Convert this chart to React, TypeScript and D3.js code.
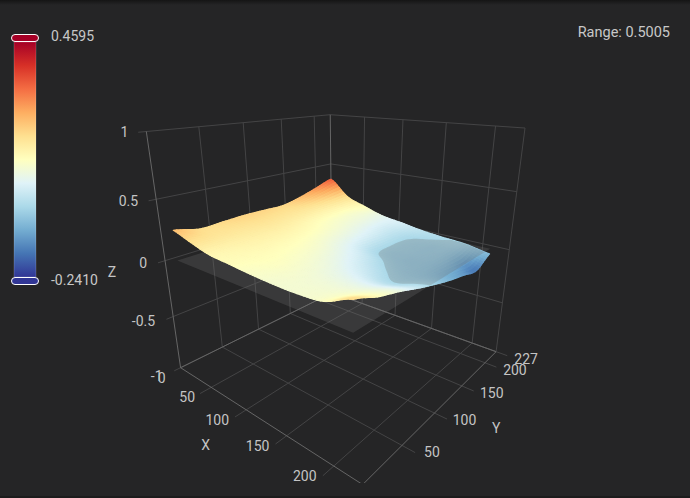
import { useEffect, useRef } from 'react';
import * as d3 from 'd3';

const WIDTH = 690;
const HEIGHT = 498;
const BG = '#252526';

// surface samples: one row per y value, one column per x value
const surfaceXs = [0, 26, 52, 78, 104, 130, 156, 182, 208];
const surfaceYs = [12, 39, 66, 93, 120, 146, 173, 200, 227];
const surfaceZ = [
  [0.227, 0.175, 0.129, 0.114, 0.098, 0.087, 0.086, 0.103, 0.187],
  [0.181, 0.165, 0.135, 0.118, 0.105, 0.088, 0.078, 0.082, 0.116],
  [0.188, 0.165, 0.14, 0.118, 0.098, 0.075, 0.052, 0.042, 0.066],
  [0.196, 0.17, 0.14, 0.112, 0.085, 0.05, 0.012, -0.022, 0.007],
  [0.193, 0.165, 0.13, 0.1, 0.06, 0.018, -0.028, -0.05, -0.045],
  [0.19, 0.16, 0.115, 0.085, 0.04, -0.028, -0.05, -0.06, -0.09],
  [0.227, 0.16, 0.105, 0.07, 0.025, -0.034, -0.048, -0.062, -0.125],
  [0.28, 0.17, 0.1, 0.062, 0.015, -0.03, -0.045, -0.06, -0.16],
  [0.337, 0.182, 0.114, 0.055, 0.027, -0.005, -0.025, -0.04, -0.078],
];
const planeZ = -0.03;

const xTicks = [0, 50, 100, 150, 200];
const yTicks = [50, 100, 150, 200, 227];
const zTicks = [-1, -0.5, 0, 0.5, 1];
const zTickLabels = ['-1', '-0.5', '0', '0.5', '1'];

const colorMin = -0.241;
const colorMax = 0.4595;
const rangeLabel = 'Range: 0.5005';
const rdYlBu = ['#313695', '#4575b4', '#74add1', '#abd9e9', '#e0f3f8', '#ffffbf', '#fee090', '#fdae61', '#f46d43', '#d73027', '#a50026'];

// box points and where they land on screen, used to fit the 3d camera
const cameraAnchors: [number, number, number, number, number][] = [
  [0, 0, -1, 180, 368],
  [227, 0, -1, 363, 484],
  [227, 227, -1, 497, 353],
  [0, 227, -1, 331, 291],
  [0, 0, 1, 147, 130],
  [0, 227, 1, 331, 115],
  [227, 227, 1, 524, 127],
  [227, 227, 0, 509, 250],
  [227, 227, 0.5, 517, 192],
  [0, 227, 0.5, 331, 165],
  [0, 0, 0.5, 155, 199],
  [0, 0, 0, 165, 262],
  [50, 0, -1, 213, 388],
  [100, 0, -1, 247, 410],
  [150, 0, -1, 287, 436],
  [200, 0, -1, 332, 466],
  [227, 50, -1, 402, 445],
  [227, 100, -1, 433, 413],
  [227, 150, -1, 462, 385],
  [227, 200, -1, 486, 363],
];

const scaleX = d3.scaleLinear().domain([0, 227]).range([0, 1]);
const scaleY = d3.scaleLinear().domain([0, 227]).range([0, 1]);
const scaleZ = d3.scaleLinear().domain([-1, 1]).range([0, 1]);

function fitCamera() {
  const rows: number[][] = [];
  const rhs: number[] = [];
  for (const [x, y, z, u, v] of cameraAnchors) {
    const X = scaleX(x), Y = scaleY(y), Z = scaleZ(z);
    rows.push([X, Y, Z, 1, 0, 0, 0, 0, -u * X, -u * Y, -u * Z]);
    rhs.push(u);
    rows.push([0, 0, 0, 0, X, Y, Z, 1, -v * X, -v * Y, -v * Z]);
    rhs.push(v);
  }
  // normal equations, gaussian elimination
  const n = 11;
  const m = d3.range(n).map((i) => {
    const r = d3.range(n).map((j) => d3.sum(rows, (row) => row[i] * row[j]));
    r.push(d3.sum(rows, (row, k) => row[i] * rhs[k]));
    return r;
  });
  for (let c = 0; c < n; c++) {
    let p = c;
    for (let r = c + 1; r < n; r++) if (Math.abs(m[r][c]) > Math.abs(m[p][c])) p = r;
    [m[c], m[p]] = [m[p], m[c]];
    for (let r = 0; r < n; r++) {
      if (r === c) continue;
      const f = m[r][c] / m[c][c];
      for (let k = c; k <= n; k++) m[r][k] -= f * m[c][k];
    }
  }
  return m.map((r, i) => r[n] / r[i]);
}

const cam = fitCamera();

function project(x: number, y: number, z: number): [number, number] {
  const X = scaleX(x), Y = scaleY(y), Z = scaleZ(z);
  const w = cam[8] * X + cam[9] * Y + cam[10] * Z + 1;
  return [
    (cam[0] * X + cam[1] * Y + cam[2] * Z + cam[3]) / w,
    (cam[4] * X + cam[5] * Y + cam[6] * Z + cam[7]) / w,
  ];
}

function catmull(p: number[], t: number) {
  const i = Math.min(Math.floor(t), p.length - 2);
  const f = t - i;
  const a = p[Math.max(i - 1, 0)], b = p[i], c = p[i + 1], d = p[Math.min(i + 2, p.length - 1)];
  return b + 0.5 * f * (c - a + f * (2 * a - 5 * b + 4 * c - d + f * (3 * (b - c) + d - a)));
}

const colIndex = d3.scaleLinear().domain(surfaceXs).range(d3.range(surfaceXs.length));
const rowIndex = d3.scaleLinear().domain(surfaceYs).range(d3.range(surfaceYs.length));

function zAt(x: number, y: number) {
  const cx = colIndex(x), cy = rowIndex(y);
  return catmull(surfaceZ.map((row) => catmull(row, cx)), cy);
}

const colorStops = rdYlBu.map((_, i) => colorMin + (i / (rdYlBu.length - 1)) * (colorMax - colorMin));
const colorScale = d3.scaleLinear<string>().domain(colorStops).range(rdYlBu).clamp(true);

export default function App() {
  const svgRef = useRef<SVGSVGElement>(null);

  useEffect(() => {
    if (!svgRef.current) return;
    const svg = d3.select(svgRef.current);
    svg.selectAll('*').remove();

    const defs = svg.append('defs');
    defs.append('clipPath').attr('id', 'scene').append('rect').attr('width', WIDTH).attr('height', 483);
    const grad = defs.append('linearGradient').attr('id', 'bar').attr('x1', 0).attr('x2', 0).attr('y1', 1).attr('y2', 0);
    rdYlBu.forEach((c, i) => {
      grad.append('stop').attr('offset', i / (rdYlBu.length - 1)).attr('stop-color', c);
    });
    const topFade = defs.append('linearGradient').attr('id', 'topFade').attr('x1', 0).attr('x2', 0).attr('y1', 0).attr('y2', 1);
    topFade.append('stop').attr('offset', 0).attr('stop-color', '#151515');
    topFade.append('stop').attr('offset', 1).attr('stop-color', BG);

    // Window edges
    svg.append('rect').attr('width', WIDTH).attr('height', 5).attr('fill', 'url(#topFade)');
    svg.append('rect').attr('y', 496).attr('width', WIDTH).attr('height', 2).attr('fill', '#1c1c1c');

    const g = svg.append('g').attr('clip-path', 'url(#scene)');
    const path3d = d3.line();
    const seg = (pts: [number, number, number][], color: string, w = 1) =>
      g.append('path')
        .attr('d', path3d(pts.map((p) => project(p[0], p[1], p[2]))))
        .attr('fill', 'none')
        .attr('stroke', color)
        .attr('stroke-width', w);

    const gridColor = '#444445';
    const axisColor = '#666666';

    // Floor grid, with the little tick stubs past the axis
    xTicks.slice(1).forEach((t) => seg([[t, -12, -1], [t, 227, -1]], gridColor));
    yTicks.forEach((t) => seg([[0, t, -1], [239, t, -1]], gridColor));

    // Walls
    yTicks.slice(0, -1).forEach((t) => seg([[0, t, -1], [0, t, 1]], gridColor));
    xTicks.slice(1).forEach((t) => seg([[t, 227, -1], [t, 227, 1]], gridColor));
    zTicks.forEach((t) => {
      seg([[0, -7, t], [0, 227, t]], gridColor);
      seg([[0, 227, t], [227, 227, t]], gridColor);
    });

    // Box edges
    seg([[0, 0, -1], [227, 0, -1]], axisColor);
    seg([[227, 0, -1], [227, 227, -1]], axisColor);
    seg([[0, 0, -1], [0, 0, 1]], axisColor);
    seg([[0, 227, -1], [0, 227, 1]], axisColor);
    seg([[227, 227, -1], [227, 227, 1]], gridColor);
    seg([[0, 0, -1], [0, 227, -1]], axisColor);
    seg([[0, 227, -1], [227, 227, -1]], axisColor);

    // Reference plane, seen behind and in front of the surface
    const xMin = surfaceXs[0], xMax = surfaceXs[surfaceXs.length - 1];
    const yMin = surfaceYs[0], yMax = surfaceYs[surfaceYs.length - 1];
    const planeCorners = [[xMin, yMin], [xMax, yMin], [xMax, yMax], [xMin, yMax]].map((c) => project(c[0], c[1], planeZ));
    const planeD = `M${planeCorners.join('L')}Z`;
    const planeFill = 'rgba(112,112,112,0.28)';
    g.append('path').attr('d', planeD).attr('fill', planeFill);
    defs.append('clipPath').attr('id', 'plane').append('path').attr('d', planeD);

    // Surface, painted from the far corner to the near one
    const sub = 8;
    const nx = (surfaceXs.length - 1) * sub;
    const ny = (surfaceYs.length - 1) * sub;
    const xAt = (i: number) => xMin + (i / nx) * (xMax - xMin);
    const yAt = (j: number) => yMin + (j / ny) * (yMax - yMin);
    const surface = g.append('g');
    for (let i = 0; i < nx; i++) {
      for (let j = ny - 1; j >= 0; j--) {
        const corners = [[i, j], [i + 1, j], [i + 1, j + 1], [i, j + 1]].map(([a, b]) => project(xAt(a), yAt(b), zAt(xAt(a), yAt(b))));
        const c = colorScale(zAt(xAt(i + 0.5), yAt(j + 0.5)));
        surface.append('path')
          .attr('d', `M${corners.join('L')}Z`)
          .attr('fill', c)
          .attr('stroke', c)
          .attr('stroke-width', 1.2)
          .attr('stroke-linejoin', 'round');
      }
    }

    // Where the surface dips under the plane, the plane covers it
    const values: number[] = [];
    for (let j = 0; j <= ny; j++) for (let i = 0; i <= nx; i++) values.push(-zAt(xAt(i), yAt(j)));
    const below = d3.contours().size([nx + 1, ny + 1]).thresholds([-planeZ])(values)[0];
    const belowD = below.coordinates
      .map((poly) => poly.map((ring) => `M${ring.map(([a, b]) => {
        const x = xAt(Math.min(Math.max(a - 0.5, 0), nx));
        const y = yAt(Math.min(Math.max(b - 0.5, 0), ny));
        return project(x, y, zAt(x, y));
      }).join('L')}Z`).join(''))
      .join('');
    g.append('g').attr('clip-path', 'url(#plane)').append('path').attr('d', belowD).attr('fill', planeFill);

    // Tick labels
    const label = (p: [number, number], text: string, anchor = 'middle', color = '#c4c4c4') =>
      g.append('text')
        .attr('x', p[0])
        .attr('y', p[1])
        .attr('dy', '0.35em')
        .attr('text-anchor', anchor)
        .attr('fill', color)
        .attr('font-size', 14)
        .text(text);
    const xOffset = d3.scaleLinear().domain([0, 100]).range([-19, -29]).clamp(true);
    xTicks.forEach((t) => {
      const [px, py] = project(t, 0, -1);
      label([px + xOffset(t), py + 10], String(t));
    });
    yTicks.forEach((t) => {
      const [px, py] = project(227, t, -1);
      label([px + 30, py + 7], String(t));
    });
    const zDrop = d3.scaleLinear().domain([-1, -0.5, 0, 1]).range([8, 5, 2, 1]);
    zTicks.forEach((t, i) => {
      const [px, py] = project(0, 0, t);
      label([px - 18, py + zDrop(t)], zTickLabels[i], 'end');
    });

    // Axis titles
    const [xtx, xty] = project(113.5, 0, -1);
    label([xtx - 51, xty + 29], 'X');
    const [ytx, yty] = project(227, 113.5, -1);
    label([ytx + 54, yty + 23], 'Y');
    const [ztx, zty] = project(0, 0, 0);
    label([ztx - 53, zty + 11], 'Z');

    // Colorbar
    const bar = svg.append('g');
    bar.append('rect').attr('x', 14).attr('y', 42).attr('width', 22).attr('height', 235)
      .attr('fill', 'url(#bar)').attr('stroke', 'rgba(255,255,255,0.35)').attr('stroke-width', 0.5);
    bar.append('rect').attr('x', 11.5).attr('y', 34.5).attr('width', 27).attr('height', 7).attr('rx', 3.5)
      .attr('fill', rdYlBu[rdYlBu.length - 1]).attr('stroke', '#fff');
    bar.append('rect').attr('x', 11.5).attr('y', 277.5).attr('width', 27).attr('height', 7).attr('rx', 3.5)
      .attr('fill', rdYlBu[0]).attr('stroke', '#fff');
    const barText = (x: number, y: number, text: string, anchor = 'start', size = 14) =>
      svg.append('text').attr('x', x).attr('y', y).attr('dy', '0.35em').attr('text-anchor', anchor)
        .attr('fill', '#c8c8c8').attr('font-size', size).text(text);
    barText(51, 36, colorMax.toFixed(4));
    barText(51, 280, colorMin.toFixed(4));
    barText(670, 32, rangeLabel, 'end', 14.5);
  }, []);

  return (
    <svg
      ref={svgRef}
      width={WIDTH}
      height={HEIGHT}
      style={{ position: 'absolute', left: 0, top: 0, background: BG, fontFamily: 'Roboto, sans-serif' }}
    />
  );
}
